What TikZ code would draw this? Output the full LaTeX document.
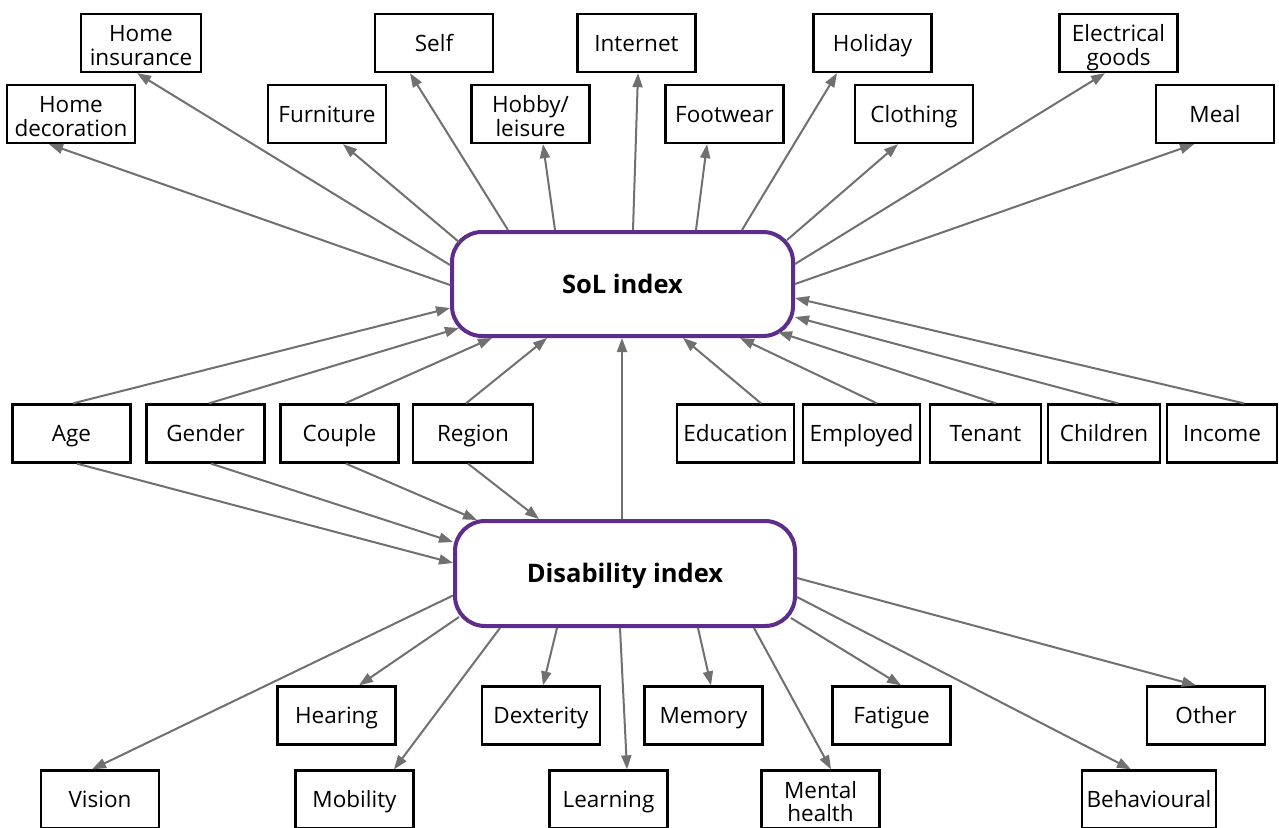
\documentclass[tikz,border=0pt]{standalone}
\usepackage{fontspec}
\setmainfont{Open Sans}
\usetikzlibrary{arrows.meta}
\definecolor{solpurple}{RGB}{94,45,140}
\definecolor{arrgray}{RGB}{112,112,112}
\tikzset{
  basebox/.style={draw=black, line width=2.3pt, fill=white, minimum width=118pt, minimum height=58pt,
    inner sep=0pt, align=center, font=\fontsize{22.5}{23.5}\selectfont},
  box/.style={basebox, text height=16.5pt, text depth=0pt},
  box2/.style={basebox, text height=44pt, text depth=0pt},
  hub/.style={draw=solpurple, line width=4pt, fill=white, rounded corners=30pt, minimum width=341pt,
    minimum height=104pt, inner sep=0pt, text height=18.5pt, text depth=0pt,
    font=\fontsize{25.5}{28}\selectfont\bfseries},
  arr/.style={draw=arrgray, line width=2pt, -{Triangle[length=14pt,width=10pt]}, arrgray}
}
\begin{document}
\begin{tikzpicture}[x=1pt,y=-1pt]
\useasboundingbox (0,0) rectangle (1279,827);
\fill[white] (0,0) rectangle (1279,827);
\clip (0,0) rectangle (1279,827);
% hubs
\node[hub] (sol) at (622.5,284) {SoL index};
\node[hub, minimum width=340pt, minimum height=105pt] (dis) at (625,573.5) {Disability index};
% top rows
\node[box2, minimum width=120pt] (hins) at (141,43) {Home\\insurance};
\node[box2, minimum width=128pt] (hdec) at (71,114) {Home\\decoration};
\node[box] (furn) at (327,114) {Furniture};
\node[box] (self) at (434,43) {Self};
\node[box2] (hobby) at (530.5,114) {Hobby/\\leisure};
\node[box] (inet) at (636.5,43) {Internet};
\node[box] (foot) at (724.5,114) {Footwear};
\node[box] (holi) at (872.5,43) {Holiday};
\node[box] (cloth) at (914,114) {Clothing};
\node[box2] (elec) at (1118.5,43) {Electrical\\goods};
\node[box] (meal) at (1215,114) {Meal};
% middle row
\node[box] (age) at (71.5,433.5) {Age};
\node[box] (gender) at (205.5,433.5) {Gender};
\node[box] (couple) at (339.5,433.5) {Couple};
\node[box, minimum width=120pt] (region) at (473,433.5) {Region};
\node[box, minimum width=117pt] (edu) at (735.5,433.5) {Education};
\node[box, minimum width=117pt] (emp) at (861.5,433.5) {Employed};
\node[box, minimum width=111pt] (tenant) at (985.5,433.5) {Tenant};
\node[box, minimum width=112pt] (children) at (1104,433.5) {Children};
\node[box, minimum width=110pt] (income) at (1222,433.5) {Income};
% bottom rows
\node[box] (hearing) at (336.5,715.5) {Hearing};
\node[box] (dext) at (541,715.5) {Dexterity};
\node[box] (memory) at (703.5,715.5) {Memory};
\node[box] (fatigue) at (891.5,715.5) {Fatigue};
\node[box] (other) at (1206,715.5) {Other};
\node[box] (vision) at (100,799.5) {Vision};
\node[box] (mobility) at (354.5,799.5) {Mobility};
\node[box] (learning) at (608.5,799.5) {Learning};
\node[box2] (mental) at (820.5,799.5) {Mental\\health};
\node[box, minimum width=134pt] (behav) at (1149,799.5) {Behavioural};
% SoL -> top
\draw[arr] ([yshift=-1]sol.west) -- ([xshift=-22]hdec.south);
\draw[arr] ([yshift=19]sol.west) -- ([xshift=-4]hins.south);
\draw[arr] ([xshift=-163.5,yshift=42]sol.center) -- ([xshift=16]furn.south);
\draw[arr] ([xshift=-114.5]sol.north) -- ([xshift=-24]self.south);
\draw[arr] ([xshift=-67.5]sol.north) -- ([xshift=12.5]hobby.south);
\draw[arr] ([xshift=10.5]sol.north) -- ([xshift=1.5]inet.south);
\draw[arr] ([xshift=73.5]sol.north) -- ([xshift=-17.5]foot.south);
\draw[arr] ([xshift=119.5]sol.north) -- ([xshift=-35.5]holi.south);
\draw[arr] ([xshift=164.5,yshift=44]sol.center) -- ([xshift=-16]cloth.south);
\draw[arr] ([yshift=20]sol.east) -- ([xshift=-13.5]elec.south);
\draw[arr] (sol.east) -- ([xshift=-21]meal.south);
% middle -> SoL
\draw[arr] ([xshift=1.5]age.north) -- ([yshift=-24]sol.west);
\draw[arr] ([xshift=3.5]gender.north) -- ([xshift=-163.5,yshift=-44]sol.center);
\draw[arr] ([xshift=5.5]couple.north) -- ([xshift=-130.5]sol.south);
\draw[arr] ([xshift=-7]region.north) -- ([xshift=-75.5]sol.south);
\draw[arr] ([xshift=-3]dis.north) -- ([xshift=-0.5]sol.south);
\draw[arr] ([xshift=25.5]edu.north) -- ([xshift=60.5]sol.south);
\draw[arr] ([xshift=15.5]emp.north) -- ([xshift=117.5]sol.south);
\draw[arr] ([xshift=10.5]tenant.north) -- ([xshift=155.5,yshift=-48]sol.center);
\draw[arr] ([xshift=14]children.north) -- ([yshift=-33]sol.east);
\draw[arr] ([xshift=22]income.north) -- ([yshift=-14]sol.east);
% middle -> Disability
\draw[arr] ([xshift=5.5]age.south) -- ([yshift=10.5]dis.west);
\draw[arr] ([xshift=5.5]gender.south) -- ([yshift=31.5]dis.west);
\draw[arr] ([xshift=6.5]couple.south) -- ([xshift=-148,yshift=-1]dis.north);
\draw[arr] ([xshift=-5]region.south) -- ([xshift=-86]dis.north);
% Disability -> bottom
\draw[arr] ([yshift=-22]dis.west) -- ([xshift=-8]vision.north);
\draw[arr] ([xshift=-166,yshift=-43.5]dis.center) -- ([xshift=22.5]hearing.north);
\draw[arr] ([xshift=-125]dis.south) -- ([xshift=39.5]mobility.north);
\draw[arr] ([xshift=-68]dis.south) -- ([xshift=2]dext.north);
\draw[arr] ([xshift=-5]dis.south) -- ([xshift=18.5]learning.north);
\draw[arr] ([xshift=73]dis.south) -- ([xshift=7.5]memory.north);
\draw[arr] ([xshift=129]dis.south) -- ([xshift=10.5]mental.north);
\draw[arr] ([xshift=166,yshift=-44.5]dis.center) -- ([xshift=9.5]fatigue.north);
\draw[arr] ([yshift=-23.5]dis.east) -- ([xshift=-18]behav.north);
\draw[arr] ([yshift=-4.5]dis.east) -- ([xshift=-10]other.north);
\end{tikzpicture}
\end{document}
